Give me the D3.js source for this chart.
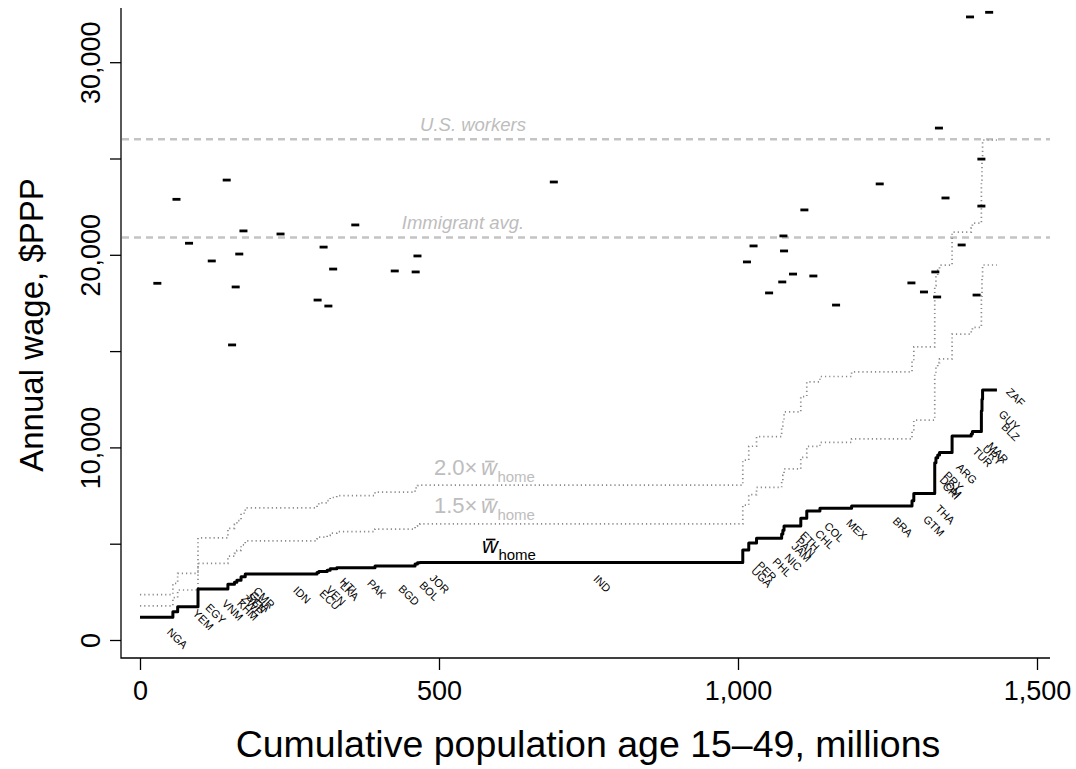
<!DOCTYPE html>
<html><head><meta charset="utf-8">
<script src="https://cdn.jsdelivr.net/npm/d3@7"></script>
<style>
body{margin:0;background:#fff}
svg{display:block;font-family:"Liberation Sans",Arial,Helvetica,sans-serif}
</style>
</head><body>
<svg id="c" width="1076" height="769"></svg>
<script>
// ---- data ----
const countries = ["NGA","YEM","EGY","VNM","KHM","ZWE","SEN","GHA","CMR","IDN","ECU","VEN","LKA","HTI","PAK","BGD","BOL","JOR","IND","UGA","PER","PHL","NIC","JAM","PAN","ETH","CHL","COL","MEX","BRA","GTM","THA","CRI","DOM","PRY","ARG","TUR","URY","MAR","BLZ","GUY","ZAF"];
const popMillions = [55,8,34,46,4,11,4,7,7,120,3,14,5,11,64,67,4,4,540,10,13,42,2,2,2,26,10,22,53,101,3,35,2,3,3,21,32,2,15,1,1,24];
const homeWage = [1180,1470,1730,2650,2650,2900,3000,3100,3290,3430,3500,3560,3620,3700,3750,3840,3950,4010,4020,4670,5030,5280,5500,5700,5920,5920,6320,6700,6840,6960,7230,7610,9200,9460,9600,9730,10590,10700,10820,11900,12500,12980];
const immigrantPop = [29,61,82,120,145,154,160,166,173,235,297,307,315,323,360,426,461,464,692,1015,1026,1052,1074,1076,1077,1092,1111,1126,1164,1237,1290,1311,1330,1333,1336,1347,1374,1388,1399,1407,1407,1420];
const immigrantWage = [18520,22880,20600,19680,23880,15320,18330,20040,21240,21080,17650,20400,17340,19260,21550,19160,19110,19940,23780,19630,20460,18020,18590,20980,20200,19000,22330,18900,17390,23680,18540,18070,19110,17810,26580,22950,20510,32350,17910,24970,22530,32590];
const multiples = [1.5, 2.0];
const usWorkersWage = 26000;
const immigrantAvgWage = 20900;
const xTicks = [0, 500, 1000, 1500];
const yTicks = [0, 5000, 10000, 15000, 20000, 25000, 30000];
const yLabelled = [0, 10000, 20000, 30000];

// ---- layout ----
const svg = d3.select("#c");
const pLeft = 121, pRight = 1050, pTop = 8, pBottom = 658;
const x = d3.scaleLinear().domain([0, 1500]).range([140, 1037]);
const y = d3.scaleLinear().domain([0, 30000]).range([640, 62.2]);
const fmt = d3.format(",");

// label nudges (pixels) where labels were pushed apart in the reference
const nudge = {YEM:[7,-13],EGY:[7,-14],ECU:[-9,6],VEN:[-8,3],HTI:[-6,-4],BGD:[-7,8],BOL:[-8,6],
  UGA:[-5,6],PER:[-7,7],PHL:[-8,8],NIC:[-10,7],JAM:[-3,1],ETH:[-4,-6],GTM:[0,4],CRI:[-5,7],
  DOM:[-7,8],PRY:[-6,5],BLZ:[8,0],GUY:[6,0],ZAF:[5,-14]};

const starts = [0, ...d3.cumsum(popMillions)].slice(0, popMillions.length);
const total = d3.sum(popMillions);
const stepPts = countries.map((c, i) => [starts[i], homeWage[i]]);
stepPts.push([total, homeWage[homeWage.length - 1]]);

const line = d3.line().x(d => x(d[0])).y(d => y(d[1])).curve(d3.curveStepAfter);

// reference lines
const refs = [{v: usWorkersWage, t: "U.S. workers", cx: 473}, {v: immigrantAvgWage, t: "Immigrant avg.", cx: 463}];
refs.forEach(r => {
  svg.append("line").attr("x1", pLeft + 1).attr("x2", pRight).attr("y1", y(r.v)).attr("y2", y(r.v))
    .attr("stroke", "#c4c4c4").attr("stroke-width", 2.6).attr("stroke-dasharray", "7,5");
  svg.append("text").attr("x", r.cx).attr("y", y(r.v) - 8).attr("text-anchor", "middle")
    .attr("font-style", "italic").attr("fill", "#bdbdbd").style("font-size", "18.5px").text(r.t);
});

// dotted multiples
multiples.forEach(m => {
  svg.append("path").datum(stepPts.map(d => [d[0], d[1] * m])).attr("d", line)
    .attr("fill", "none").attr("stroke", "#8a8a8a").attr("stroke-width", 1.7)
    .attr("stroke-dasharray", "1.2,3");
});

// home wage step
svg.append("path").datum(stepPts).attr("d", line).attr("fill", "none")
  .attr("stroke", "#000").attr("stroke-width", 3).attr("stroke-linejoin", "round");

// immigrant wage marks
svg.append("g").selectAll("rect").data(immigrantPop.map((p, i) => [p, immigrantWage[i]]))
  .join("rect").attr("x", d => x(d[0]) - 4).attr("y", d => y(d[1]) - 1.4)
  .attr("width", 8).attr("height", 2.8).attr("fill", "#000");

// country labels
svg.append("g").selectAll("text").data(countries).join("text")
  .attr("transform", (c, i) => {
    const n = nudge[c] || [0, 0];
    const cx = x(starts[i] + popMillions[i] / 2) + 21 + n[0];
    const cy = y(homeWage[i]) + 21 + n[1];
    return `translate(${cx},${cy}) rotate(45)`;
  })
  .attr("text-anchor", "middle").attr("dominant-baseline", "central")
  .style("font-size", "11px").attr("fill", "#000").text(c => c);

// formula labels
function formula(xStart, wx, base, prefix, color) {
  const g = svg.append("g").attr("fill", color);
  if (prefix) g.append("text").attr("x", xStart).attr("y", base).style("font-size", "22px").text(prefix);
  const w = g.append("text").attr("x", wx).attr("y", base).style("font-size", "22px")
    .attr("font-style", "italic").text("w");
  const ww = w.node().getComputedTextLength();
  g.append("line").attr("x1", wx + 4).attr("x2", wx + 13.5).attr("y1", base - 13.5).attr("y2", base - 13.5)
    .attr("stroke", color).attr("stroke-width", 1.7);
  g.append("text").attr("x", wx + ww + 0.5).attr("y", base + 6.5).style("font-size", "15px").text("home");
}
formula(434, 481, 475, "2.0\u00d7", "#bdbdbd");
formula(434, 481, 513, "1.5\u00d7", "#bdbdbd");
formula(null, 482, 553, null, "#000");

// axes
const yAxis = svg.append("g").attr("transform", `translate(${pLeft},0)`)
  .call(d3.axisLeft(y).tickValues(yTicks).tickSize(11).tickFormat(d => yLabelled.includes(d) ? fmt(d) : ""));
yAxis.select(".domain").remove();
yAxis.selectAll("line").attr("stroke-width", 1.3);
yAxis.selectAll("text").attr("transform", "rotate(-90)").attr("x", 0).attr("y", -21).attr("dy", 0)
  .attr("text-anchor", "middle").style("font-size", "27px").attr("font-family", null).attr("fill", "#000");

const xAxis = svg.append("g").attr("transform", `translate(0,${pBottom})`)
  .call(d3.axisBottom(x).tickValues(xTicks).tickSize(12).tickFormat(fmt));
xAxis.select(".domain").remove();
xAxis.selectAll("line").attr("stroke-width", 1.3);
xAxis.selectAll("text").attr("y", 42).attr("dy", 0).style("font-size", "27px")
  .attr("font-family", null).attr("fill", "#000");

// L frame
svg.append("path").attr("d", `M${pLeft},${pTop}V${pBottom}H${pRight}`).attr("fill", "none")
  .attr("stroke", "#000").attr("stroke-width", 1.3);

// titles
svg.append("text").attr("x", 588).attr("y", 757).attr("text-anchor", "middle")
  .style("font-size", "37.5px").text("Cumulative population age 15\u201349, millions");
svg.append("text").attr("transform", "translate(43,325) rotate(-90)").attr("text-anchor", "middle")
  .style("font-size", "33px").text("Annual wage, $PPP");
</script>
</body></html>
